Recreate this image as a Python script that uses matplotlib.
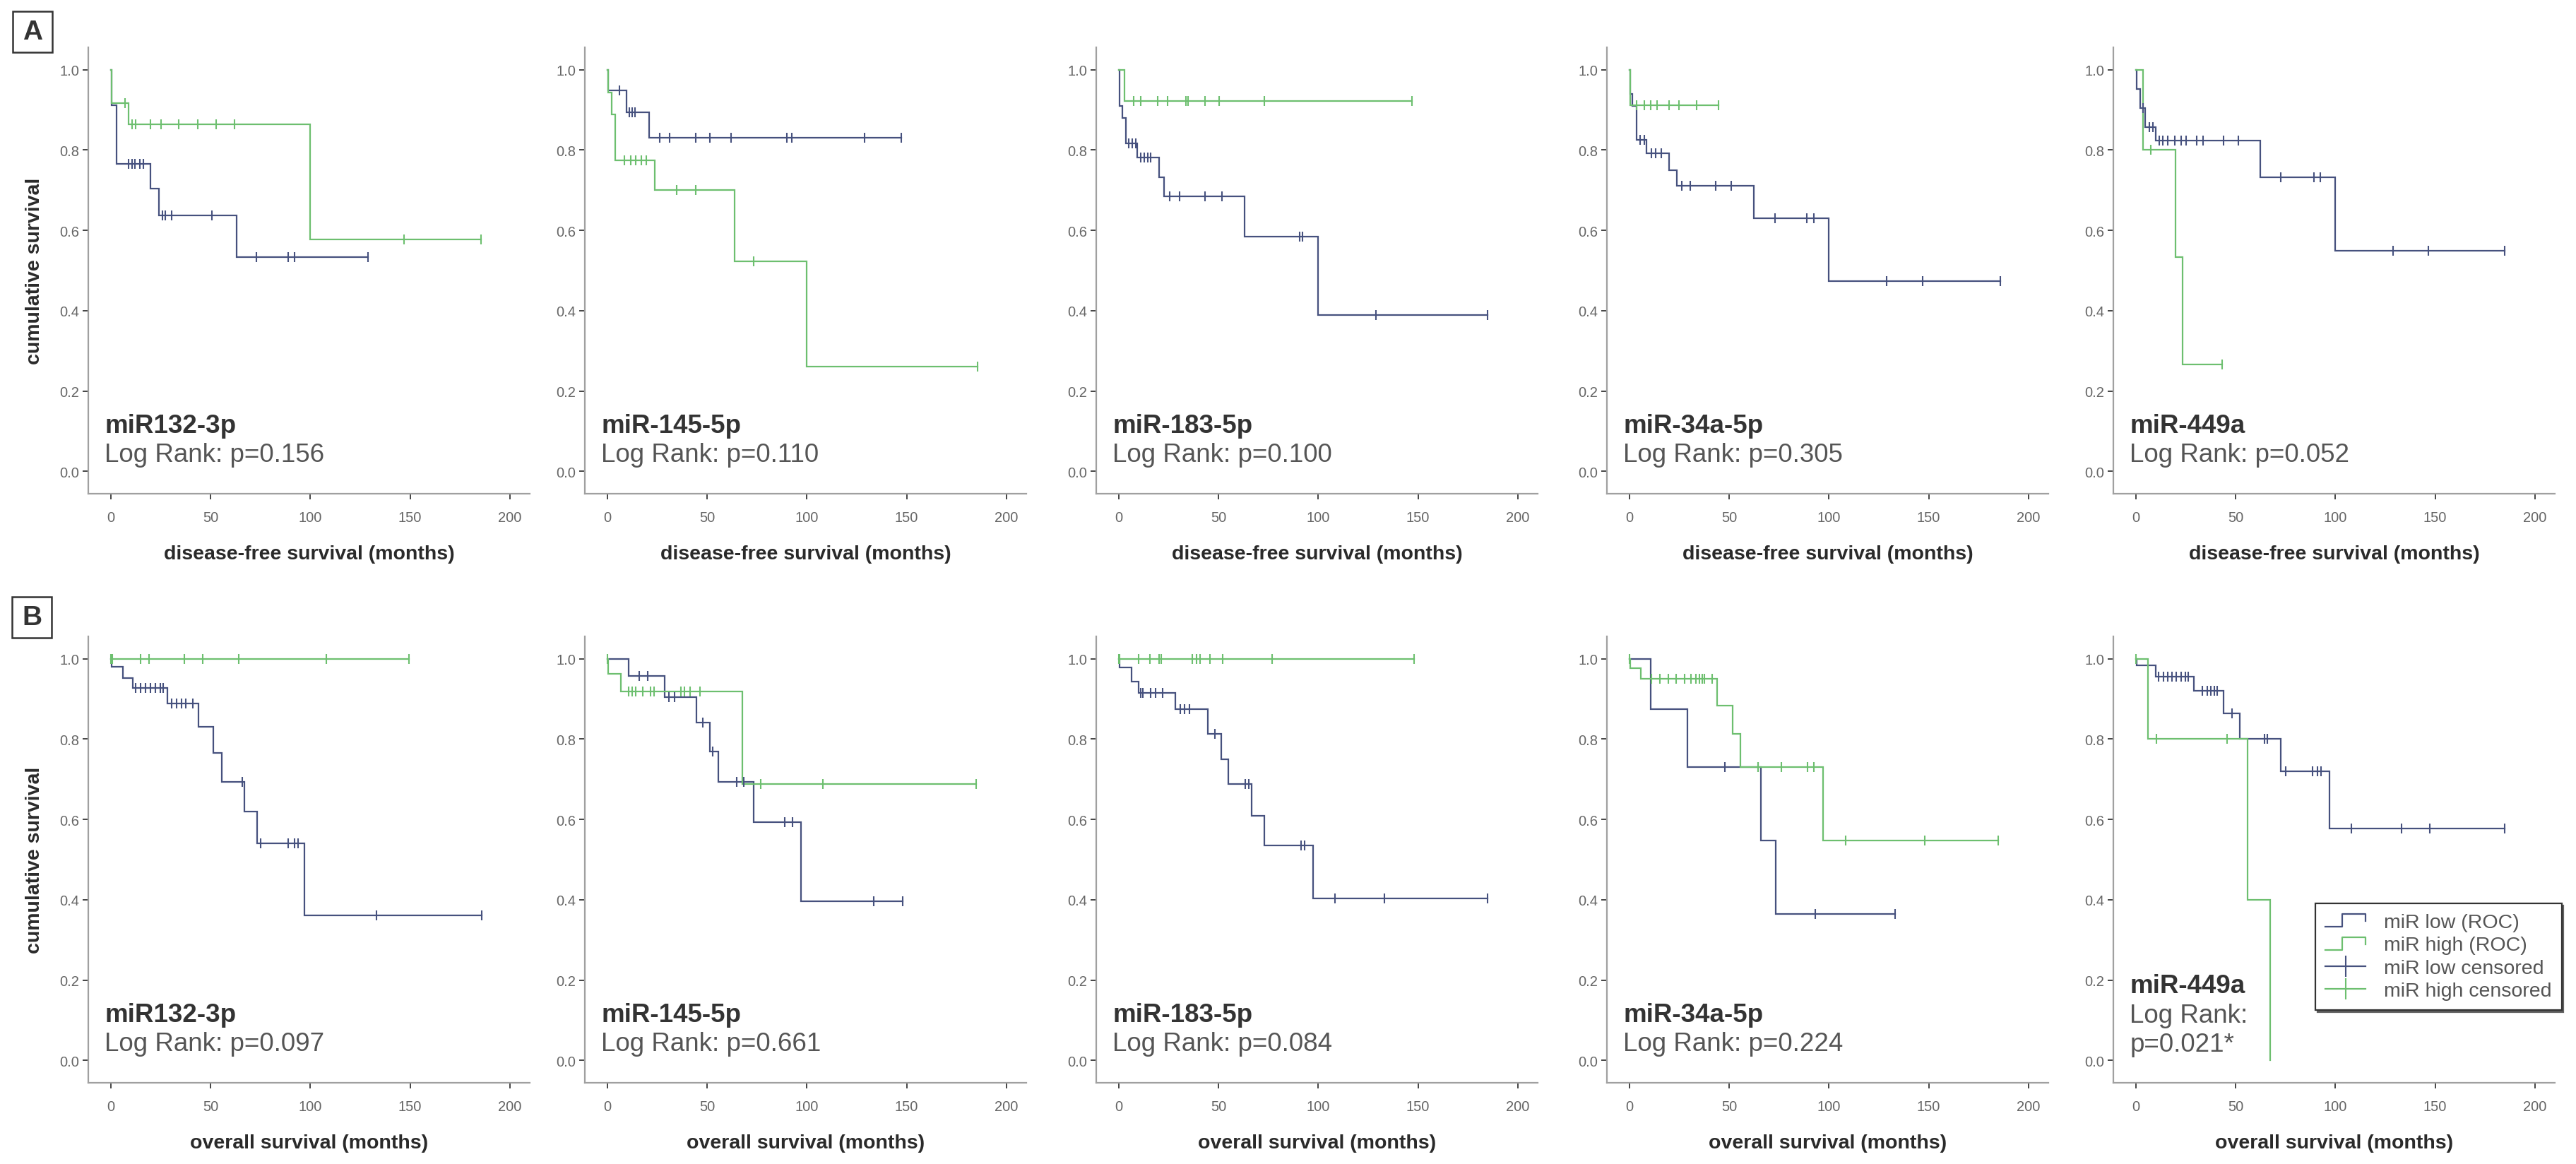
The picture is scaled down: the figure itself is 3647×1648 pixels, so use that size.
import numpy as np
import matplotlib
matplotlib.use("Agg")
import matplotlib.pyplot as plt
from matplotlib.lines import Line2D
from matplotlib.legend_handler import HandlerBase
from matplotlib.patches import Rectangle

plt.rcParams['font.family'] = ['Liberation Sans', 'DejaVu Sans']

# ---------------- data (months, cumulative survival) ----------------
panel_names = ["miR132-3p", "miR-145-5p", "miR-183-5p", "miR-34a-5p", "miR-449a"]
dfs_pvalues = ["Log Rank: p=0.156", "Log Rank: p=0.110", "Log Rank: p=0.100",
               "Log Rank: p=0.305", "Log Rank: p=0.052"]
os_pvalues = ["Log Rank: p=0.097", "Log Rank: p=0.661", "Log Rank: p=0.084",
              "Log Rank: p=0.224", "Log Rank:\np=0.021*"]
x_ticks = [0, 50, 100, 150, 200]
y_ticks = [0.0, 0.2, 0.4, 0.6, 0.8, 1.0]
legend_labels = ["miR low (ROC)", "miR high (ROC)", "miR low censored", "miR high censored"]

# Row A: disease-free survival
A1_low_t = [0.5, 3, 20, 24, 63]
A1_low_s = [0.912, 0.765, 0.704, 0.637, 0.534]
A1_low_c = [9, 10.5, 12, 14.5, 16.3, 25.8, 27.4, 30.5, 50.6, 73, 89, 92, 129]
A1_high_t = [0.5, 9, 100]
A1_high_s = [0.917, 0.865, 0.577]
A1_high_c = [7, 10.8, 12.3, 20, 25, 34, 43.7, 52.7, 61.9, 147, 185.5]

A2_low_t = [0.5, 9.6, 21]
A2_low_s = [0.948, 0.894, 0.831]
A2_low_c = [6.2, 11, 12.6, 14, 26.1, 31.2, 44.2, 51.4, 62, 89.9, 92.4, 129, 147.2]
A2_high_t = [0.5, 2, 4, 23.6, 63.6, 100]
A2_high_s = [0.944, 0.889, 0.775, 0.70, 0.523, 0.261]
A2_high_c = [8.4, 11.8, 14.3, 16.9, 19.4, 34.6, 44.2, 73.4, 185.5]

A3_low_t = [0.5, 1.7, 3.4, 9.3, 20.3, 22.8, 63, 100]
A3_low_s = [0.91, 0.88, 0.817, 0.781, 0.732, 0.684, 0.585, 0.39]
A3_low_c = [5, 6.8, 8.5, 11, 12.7, 14.4, 16, 25.4, 30.5, 43.1, 51.6, 90.5, 92.2, 129, 185]
A3_high_t = [2.9]
A3_high_s = [0.923]
A3_high_c = [7.6, 11, 19.5, 24.5, 33.8, 34.7, 43.1, 50.4, 72.8, 146.9]

A4_low_t = [0.5, 1.6, 3.6, 8.5, 19.9, 23.6, 62.2, 100]
A4_low_s = [0.94, 0.91, 0.826, 0.792, 0.75, 0.711, 0.63, 0.473]
A4_low_c = [5.2, 7.3, 10.9, 13, 15.8, 26.4, 30.4, 43.4, 51.1, 73, 89, 92.3, 128.9, 146.8, 185.8]
A4_high_t = [0.5]
A4_high_s = [0.912]
A4_high_c = [3.6, 7.6, 10.6, 13.8, 19.9, 24.7, 33.7, 44.8]

A5_low_t = [0.5, 2.0, 4.7, 9.8, 62.4, 100]
A5_low_s = [0.952, 0.905, 0.858, 0.824, 0.732, 0.549]
A5_low_c = [3.4, 6.7, 8.4, 11.8, 13.5, 16, 19.4, 22.8, 25.3, 30.4, 33.7, 43.8, 51.4,
            72.5, 89.4, 92.4, 129, 146.7, 185]
A5_high_t = [3.4, 19.9, 23.3]
A5_high_s = [0.8, 0.534, 0.266]
A5_high_c = [7.6, 43.3]

# Row B: overall survival
B1_low_t = [0.5, 6, 11, 28.5, 43.8, 51.2, 55.6, 67, 73.5, 97]
B1_low_s = [0.98, 0.952, 0.927, 0.888, 0.83, 0.765, 0.693, 0.619, 0.541, 0.361]
B1_low_c = [12.5, 15, 17.4, 19.8, 22.3, 24.7, 26.4, 30.4, 32.9, 35.3, 37.7, 41, 66,
            75, 89, 92.2, 94, 133, 185.8]
B1_high_t = []
B1_high_s = []
B1_high_c = [0, 0.6, 15, 19, 37, 46, 64, 108, 149.5]

B2_low_t = [10.5, 28.6, 44.7, 51.4, 55.7, 73.4, 97]
B2_low_s = [0.958, 0.905, 0.842, 0.77, 0.693, 0.593, 0.397]
B2_low_c = [15.9, 20.1, 31, 33.7, 48, 52.8, 65, 68.4, 89, 92.9, 133.5, 148]
B2_high_t = [0.5, 6.6, 67.5]
B2_high_s = [0.963, 0.918, 0.688]
B2_high_c = [0, 10.8, 12.5, 14.2, 17.6, 21.8, 23.5, 37, 38.7, 41.3, 46.4, 76.8, 108, 185]

B3_low_t = [0.5, 6.4, 9.8, 28.4, 44.8, 51.3, 55, 66.5, 72.8, 97.3]
B3_low_s = [0.979, 0.944, 0.916, 0.874, 0.814, 0.749, 0.688, 0.609, 0.535, 0.403]
B3_low_c = [11, 12.2, 16, 18.6, 22, 30.8, 33, 35.5, 48.2, 63.5, 65.1, 91.4, 93,
            108.3, 133.2, 184.8]
B3_high_t = []
B3_high_s = []
B3_high_c = [0, 0.5, 10, 15.6, 20.3, 21.2, 36.7, 39, 40.6, 45.7, 52, 77, 148]

B4_low_t = [10.5, 28.9, 66, 73.5]
B4_low_s = [0.874, 0.73, 0.547, 0.365]
B4_low_c = [48, 64.6, 93.3, 133]
B4_high_t = [0.5, 5.7, 43.8, 51.6, 55.5, 96.9]
B4_high_s = [0.977, 0.951, 0.884, 0.814, 0.73, 0.547]
B4_high_c = [0, 11, 15.4, 19.5, 23.5, 27.6, 30.8, 33.3, 35, 36.5, 37.7, 41.4, 64.6,
             76.3, 89.3, 92.5, 108.4, 148, 185]

B5_low_t = [0.5, 10, 29, 44.1, 52.2, 72.7, 97.1]
B5_low_s = [0.983, 0.955, 0.921, 0.865, 0.8, 0.72, 0.577]
B5_low_c = [11.3, 13.8, 15.8, 18, 20.2, 22.6, 24.7, 26.4, 33.2, 35.7, 37.4, 39.4, 40.7,
            48.3, 64.3, 66, 75.2, 88.7, 91.2, 92.9, 108, 133.3, 147.3, 184.7]
B5_high_t = [6.2, 55.9, 67.3]
B5_high_s = [0.8, 0.4, 0.0]
B5_high_c = [0, 10.4, 45.8]

row_A = [(A1_low_t, A1_low_s, A1_low_c, A1_high_t, A1_high_s, A1_high_c),
         (A2_low_t, A2_low_s, A2_low_c, A2_high_t, A2_high_s, A2_high_c),
         (A3_low_t, A3_low_s, A3_low_c, A3_high_t, A3_high_s, A3_high_c),
         (A4_low_t, A4_low_s, A4_low_c, A4_high_t, A4_high_s, A4_high_c),
         (A5_low_t, A5_low_s, A5_low_c, A5_high_t, A5_high_s, A5_high_c)]
row_B = [(B1_low_t, B1_low_s, B1_low_c, B1_high_t, B1_high_s, B1_high_c),
         (B2_low_t, B2_low_s, B2_low_c, B2_high_t, B2_high_s, B2_high_c),
         (B3_low_t, B3_low_s, B3_low_c, B3_high_t, B3_high_s, B3_high_c),
         (B4_low_t, B4_low_s, B4_low_c, B4_high_t, B4_high_s, B4_high_c),
         (B5_low_t, B5_low_s, B5_low_c, B5_high_t, B5_high_s, B5_high_c)]

# ---------------- style ----------------
LOW_COLOR = '#46517e'
HIGH_COLOR = '#6dbf6f'
LW = 1.6
W, H = 3647, 1649
DPI = 100

fig = plt.figure(figsize=(W / DPI, H / DPI), dpi=DPI)
fig.patch.set_facecolor('white')

lefts_px = [125, 828, 1552, 2275, 2992]
width_px = 625
rows_px = [(68, 700), (902, 1534)]
XLIM = (-11.3, 210)
YLIM = (-0.056, 1.056)


def px_axes(left, top, bottom):
    return [left / W, 1 - bottom / H, width_px / W, (bottom - top) / H]


def km_curve(ax, t, s, c, color):
    times = [0.0] + list(t)
    surv = [1.0] + list(s)
    end = max(times + list(c))
    xs = times + [end]
    ys = surv + [surv[-1]]
    ax.step(xs, ys, where='post', color=color, lw=LW, zorder=3, solid_joinstyle='miter')
    if len(c):
        idx = np.searchsorted(np.array(times), np.array(c), side='right') - 1
        cy = np.array(surv)[idx]
        ax.plot(c, cy, linestyle='none', marker='|', markersize=10, mew=1.5,
                color=color, zorder=4)


class StepHandler(HandlerBase):
    def create_artists(self, legend, orig_handle, xdescent, ydescent, width, height,
                       fontsize, trans):
        x0, y0 = -xdescent, -ydescent
        xs = [x0, x0 + 0.42 * width, x0 + 0.42 * width, x0 + width, x0 + width]
        ys = [y0 + 0.05 * height, y0 + 0.05 * height, y0 + 0.95 * height,
              y0 + 0.95 * height, y0 + 0.45 * height]
        ln = Line2D(xs, ys, color=orig_handle.get_color(), lw=orig_handle.get_linewidth())
        ln.set_transform(trans)
        return [ln]


for r, (rowdata, pvals, xlabel) in enumerate([(row_A, dfs_pvalues, 'disease-free survival (months)'),
                                               (row_B, os_pvalues, 'overall survival (months)')]):
    top, bottom = rows_px[r]
    for ci in range(5):
        ax = fig.add_axes(px_axes(lefts_px[ci], top, bottom))
        lt, ls, lc, ht, hs, hc = rowdata[ci]
        km_curve(ax, lt, ls, lc, LOW_COLOR)
        km_curve(ax, ht, hs, hc, HIGH_COLOR)
        ax.set_xlim(*XLIM)
        ax.set_ylim(*YLIM)
        ax.set_xticks(x_ticks)
        ax.set_yticks(y_ticks)
        ax.set_yticklabels([f"{v:.1f}" for v in y_ticks])
        for sp in ['top', 'right']:
            ax.spines[sp].set_visible(False)
        for sp in ['left', 'bottom']:
            ax.spines[sp].set_color('#a0a0a0')
            ax.spines[sp].set_linewidth(1.6)
        ax.tick_params(axis='both', direction='out', length=6, width=1.4, color='#444',
                       labelcolor='#666', labelsize=14.5)
        ax.tick_params(axis='x', pad=11)
        ax.tick_params(axis='y', pad=3)
        ax.set_xlabel(xlabel, fontsize=20.5, fontweight='bold', color='#2a2a2a', va='center')
        ax.xaxis.set_label_coords(0.5, -85 / (bottom - top))
        if ci == 0:
            ax.set_ylabel('cumulative survival', fontsize=20.5, fontweight='bold',
                          color='#2a2a2a', va='center')
            ax.yaxis.set_label_coords(-76 / width_px, 0.5)
        multi = '\n' in pvals[ci]
        if multi:
            ax.text(-3, 0.186, panel_names[ci], fontsize=26.5, fontweight='bold',
                    color='#333333', va='center', ha='left')
            l1, l2 = pvals[ci].split('\n')
            ax.text(-3, 0.112, l1, fontsize=26.5, color='#555555', va='center', ha='left')
            ax.text(-3, 0.040, l2, fontsize=26.5, color='#555555', va='center', ha='left')
        else:
            ax.text(-3, 0.114, panel_names[ci], fontsize=26.5, fontweight='bold',
                    color='#333333', va='center', ha='left')
            ax.text(-3, 0.042, pvals[ci], fontsize=26.5, color='#555555', va='center', ha='left')
        if r == 1 and ci == 4:
            h_low = Line2D([], [], color=LOW_COLOR, lw=LW)
            h_high = Line2D([], [], color=HIGH_COLOR, lw=LW)
            h_lc = Line2D([], [], color=LOW_COLOR, lw=LW, marker='|', markersize=21, mew=1.5)
            h_hc = Line2D([], [], color=HIGH_COLOR, lw=LW, marker='|', markersize=21, mew=1.5)
            leg = ax.legend([h_low, h_high, h_lc, h_hc], legend_labels,
                            handler_map={h_low: StepHandler(), h_high: StepHandler()},
                            loc='upper left', bbox_to_anchor=(3278 / W, 1 - 1280 / H),
                            bbox_transform=fig.transFigure, fontsize=20.5, frameon=True,
                            fancybox=False, handlelength=2.0, handletextpad=0.9,
                            labelspacing=0.22, borderpad=0.5, borderaxespad=0.0,
                            shadow={'color': '#555555', 'alpha': 0.9})
            leg.get_frame().set_edgecolor('#333333')
            leg.get_frame().set_linewidth(1.6)
            leg.get_frame().set_facecolor('white')
            leg.get_frame().set_alpha(1.0)
            for txt in leg.get_texts():
                txt.set_color('#555555')

# panel letters in boxes
for letter, (x0, y0) in [('A', (18, 17)), ('B', (17, 846))]:
    fig.patches.append(Rectangle((x0 / W, 1 - (y0 + 58) / H), 56 / W, 58 / H,
                                 transform=fig.transFigure, fill=False,
                                 edgecolor='#333333', lw=1.8))
    fig.text((x0 + 28) / W, 1 - (y0 + 29) / H, letter, fontsize=28, fontweight='bold',
             color='#333333', ha='center', va='center')

fig.savefig('out.png', dpi=DPI, facecolor='white')
